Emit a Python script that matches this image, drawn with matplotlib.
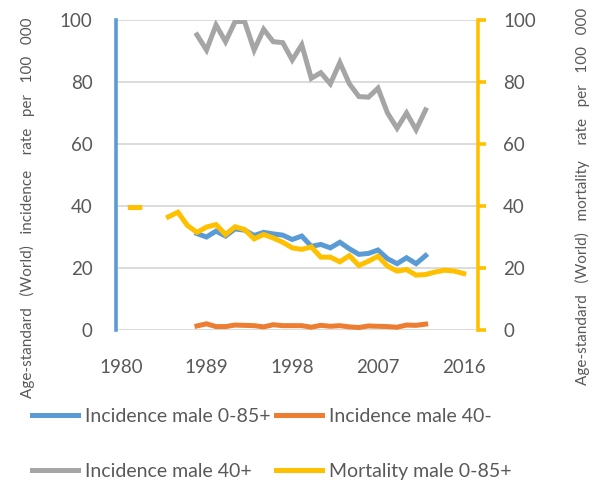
import matplotlib
matplotlib.use("Agg")
import matplotlib.pyplot as plt
import numpy as np

plt.rcParams["font.family"] = ["Lato", "DejaVu Sans"]

# years shown on the category axis
years_first, years_last = 1980, 2017
xtick_years = [1980, 1989, 1998, 2007, 2016]

# incidence series 1988-2012
inc_years = list(range(1988, 2013))
inc_all = [31.1, 30.0, 31.9, 30.3, 32.6, 32.2, 30.5, 31.5, 31.0, 30.6, 29.2, 30.3, 27.0,
           27.6, 26.5, 28.3, 26.2, 24.4, 24.7, 25.8, 23.0, 21.4, 23.3, 21.4, 24.0]
inc_young = [1.3, 2.0, 1.1, 1.1, 1.6, 1.5, 1.4, 1.0, 1.7, 1.4, 1.4, 1.4, 0.9,
             1.5, 1.2, 1.4, 1.0, 0.8, 1.3, 1.2, 1.1, 0.9, 1.6, 1.5, 1.9]
inc_old = [95.2, 90.3, 98.4, 93.0, 99.5, 99.5, 90.3, 97.0, 93.0, 92.7, 87.1, 92.0, 81.2,
           83.0, 79.4, 86.3, 79.4, 75.3, 75.1, 78.0, 70.0, 65.1, 70.0, 64.6, 71.0]

# mortality 1981-2016 (1983-1984 missing)
mort_years = list(range(1981, 2017))
mort_all = [39.5, 39.5, None, None, 36.5, 38.0, 33.7, 31.5, 33.2, 34.0, 30.8, 33.3, 32.4,
            29.4, 30.8, 29.7, 28.3, 26.5, 26.0, 26.8, 23.5, 23.5, 22.0, 24.0, 20.8, 22.2,
            23.8, 20.6, 19.0, 19.5, 17.7, 17.9, 18.7, 19.3, 19.0, 18.2]

labels = ["Incidence male 0-85+", "Incidence male 40-", "Incidence male 40+", "Mortality male 0-85+"]
colors = ["#5B9BD5", "#ED7D31", "#A5A5A5", "#FFC000"]
yticks = [0, 20, 40, 60, 80, 100]
tick_color = "#595959"
lw = 3.6

fig = plt.figure(figsize=(6.05, 4.8), dpi=100)
ax = fig.add_axes([116 / 605, 1 - 330 / 480, 362 / 605, 310 / 480])
ax2 = ax.twinx()

l1, = ax.plot(inc_years, inc_all, color=colors[0], lw=lw, solid_joinstyle="miter")
l2, = ax.plot(inc_years, inc_young, color=colors[1], lw=lw, solid_joinstyle="miter")
l3, = ax.plot(inc_years, inc_old, color=colors[2], lw=lw, solid_joinstyle="miter")
mort = np.array([np.nan if v is None else v for v in mort_all])
l4, = ax2.plot(mort_years, mort, color=colors[3], lw=lw, solid_joinstyle="miter")

for a in (ax, ax2):
    a.set_xlim(years_first - 0.5, years_last + 0.5)
    a.set_ylim(0, 100)
    a.set_yticks(yticks)
    for s in a.spines.values():
        s.set_visible(False)

ax.set_axisbelow(True)
ax.grid(axis="y", color="#D9D9D9", lw=1.3)
ax.set_xticks(xtick_years)
ax.tick_params(axis="x", length=0, pad=21, labelsize=13.5, labelcolor=tick_color)
ax.tick_params(axis="y", length=0, pad=17, labelsize=13.5, labelcolor=tick_color)
ax.spines["left"].set_visible(True)
ax.spines["left"].set_color(colors[0])
ax.spines["left"].set_linewidth(2.6)

ax2.spines["right"].set_visible(True)
ax2.spines["right"].set_color(colors[3])
ax2.spines["right"].set_linewidth(2.6)
ax2.tick_params(axis="y", length=6, width=2.6, color=colors[3], pad=12,
                labelsize=13.5, labelcolor=tick_color)

fig.text(27 / 605, 1 - 208 / 480,
         "Age-standard   (World)   incidence    rate   per   100   000",
         rotation=90, ha="center", va="center", fontsize=11, color=tick_color)
fig.text(582 / 605, 1 - 196 / 480,
         "Age-standard   (World)   mortality    rate   per   100   000",
         rotation=90, ha="center", va="center", fontsize=11, color=tick_color)

# legend is filled row by row in the reference
fig.legend([l1, l3, l2, l4], [labels[0], labels[2], labels[1], labels[3]], ncol=2,
           loc="upper left", bbox_to_anchor=(32 / 605, 1 - 408 / 480), frameon=False,
           fontsize=14, handlelength=2.35, handletextpad=0.36, columnspacing=0.3,
           labelspacing=1.95, labelcolor=tick_color, borderpad=0, borderaxespad=0)

fig.savefig("out.png", dpi=100)
